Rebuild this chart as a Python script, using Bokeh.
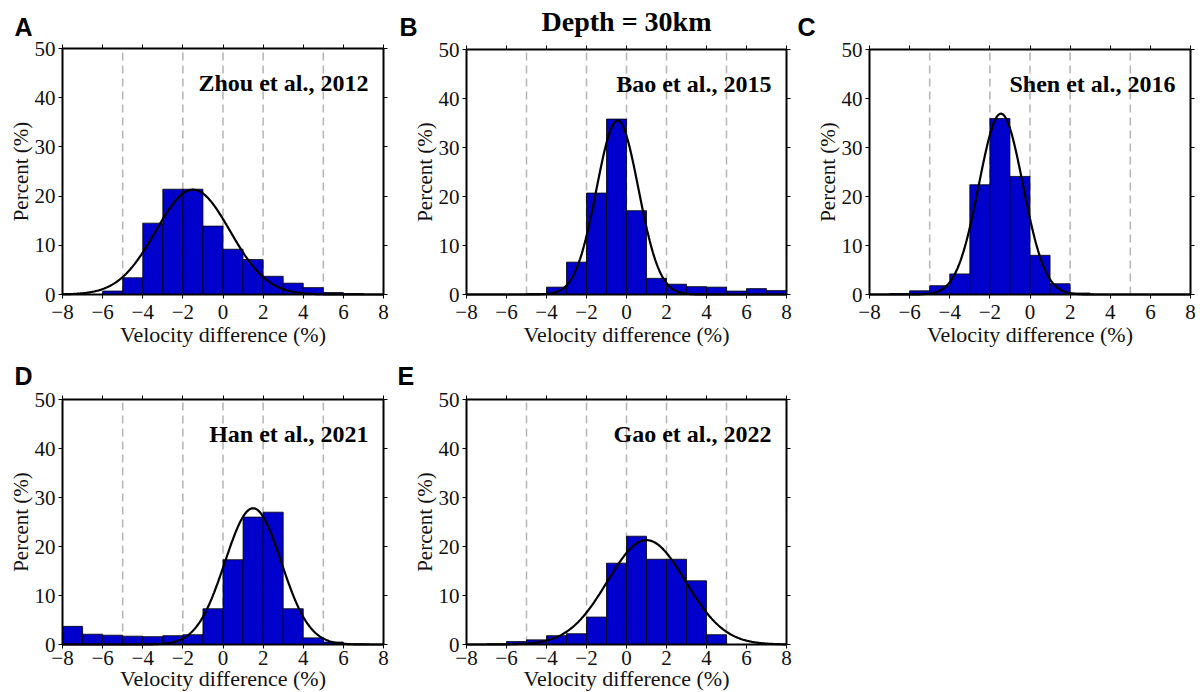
import math
import numpy as np
from bokeh.plotting import figure
from bokeh.models import Range1d, FixedTicker, LinearAxis, Label
from bokeh.layouts import column, row
from bokeh.embed import file_html
from bokeh.resources import INLINE

# ---------------- data ----------------
bin_edges = list(range(-8, 9))          # 1 % wide bins from -8 to 8
x_ticks = [-8, -6, -4, -2, 0, 2, 4, 6, 8]
y_ticks = [0, 10, 20, 30, 40, 50]
ref_lines = [-5, -2, 0, 2, 5]

zhou_2012 = [0, 0, 0.7, 3.4, 14.5, 21.4, 21.4, 13.9, 9.2, 7.1, 3.7, 2.3, 1.4, 0.4, 0.2, 0]
bao_2015 = [0, 0, 0, 0.15, 1.5, 6.6, 20.7, 35.8, 17.1, 3.3, 2.1, 1.6, 1.5, 0.7, 1.2, 0.8]
shen_2016 = [0, 0.2, 0.75, 1.8, 4.2, 22.4, 35.9, 24.1, 8.0, 2.2, 0.3, 0, 0, 0, 0, 0]
han_2021 = [3.7, 2.1, 1.9, 1.7, 1.6, 1.8, 2.0, 7.3, 17.3, 26.0, 27.0, 7.3, 1.35, 0.5, 0.1, 0]
gao_2022 = [0, 0.1, 0.6, 0.95, 1.8, 2.2, 5.6, 16.6, 22.1, 17.4, 17.4, 13.0, 2.0, 0, 0, 0]

# fitted normal curves: mean, std, peak
fit_mean = [-1.5, -0.45, -1.45, 1.5, 1.0]
fit_sigma = [1.85, 1.05, 1.1, 1.4, 1.95]
fit_peak = [21.3, 35.5, 36.9, 27.8, 21.3]

panel_letters = ["A", "B", "C", "D", "E"]
ref_names = ["Zhou et al., 2012", "Bao et al., 2015", "Shen et al., 2016",
             "Han et al., 2021", "Gao et al., 2022"]
series = [zhou_2012, bao_2015, shen_2016, han_2021, gao_2022]
title_text = "Depth = 30km"
x_title = "Velocity difference (%)"
y_title = "Percent (%)"

# ---------------- layout geometry (page pixels) ----------------
# axes box: left, right, top, bottom
boxes = [(62, 383, 48, 294), (466, 786, 49, 294), (869, 1190, 49, 294),
         (62, 383, 399, 644), (466, 786, 399, 644)]
# canvas of each figure: x0, y0, width, height
canvases = [(0, 0, 394, 350), (394, 0, 401, 350), (795, 0, 405, 350),
            (0, 350, 394, 342), (394, 350, 401, 342)]
# panel letter: left x, vertical centre y
letter_pos = [(14, 26), (399, 26), (797, 26), (14, 375), (397, 375)]
# per row: tick-label standoff, x-title centre offset below box
row_style = {0: (6, 40), 1: (2, 33.5)}

SERIF = "Liberation Serif"
SANS = "Liberation Sans"
BAR_COLOR = "#0000cc"
TXT = "#111111"


def make_panel(i):
    bl, br, bt, bb = boxes[i]
    cx, cy, cw, ch = canvases[i]
    sx = (br - bl) / 16.0
    sy = (bb - bt) / 50.0

    def px2x(px):
        return -8 + (px - bl) / sx

    def py2y(py):
        return 50 - (py - bt) / sy

    xr = Range1d(px2x(cx), px2x(cx + cw))
    yr = Range1d(py2y(cy + ch), py2y(cy))
    p = figure(width=cw, height=ch, x_range=xr, y_range=yr,
               output_backend="svg", toolbar_location=None, min_border=0)
    p.grid.visible = False
    p.outline_line_color = None
    p.background_fill_color = "white"
    p.border_fill_color = "white"

    # dashed reference lines (under the bars)
    p.segment(x0=ref_lines, x1=ref_lines, y0=[0] * len(ref_lines), y1=[50] * len(ref_lines),
              line_color="#b8b8b8", line_width=1.6, line_dash="8 5")

    vals = series[i]
    keep = [k for k in range(16) if vals[k] > 0]
    p.quad(left=[bin_edges[k] for k in keep], right=[bin_edges[k + 1] for k in keep],
           bottom=[0] * len(keep), top=[vals[k] for k in keep],
           fill_color=BAR_COLOR, line_color="black", line_width=0.8)

    xc = np.linspace(-8, 8, 401)
    yc = fit_peak[i] * np.exp(-(xc - fit_mean[i]) ** 2 / (2 * fit_sigma[i] ** 2))
    p.line(xc, yc, line_color="black", line_width=2.2)

    rs = row_style[0 if i < 3 else 1]
    overrides_x = {t: (("\u2212" + str(abs(t))) if t < 0 else str(t)) for t in x_ticks}

    xa = p.xaxis[0]
    ya = p.yaxis[0]
    xa.fixed_location = 0
    xa.bounds = (-8, 8)
    ya.fixed_location = -8
    ya.bounds = (0, 50)
    xa.ticker = FixedTicker(ticks=x_ticks)
    xa.major_label_overrides = overrides_x
    ya.ticker = FixedTicker(ticks=y_ticks)
    xa.major_label_standoff = rs[0]
    ya.major_label_standoff = 3

    top_ax = LinearAxis(fixed_location=50, bounds=(-8, 8), ticker=FixedTicker(ticks=x_ticks),
                        major_label_text_color=None)
    right_ax = LinearAxis(fixed_location=8, bounds=(0, 50), ticker=FixedTicker(ticks=y_ticks),
                          major_label_text_color=None)
    p.add_layout(top_ax, "above")
    p.add_layout(right_ax, "right")

    for ax in (xa, ya, top_ax, right_ax):
        ax.axis_line_width = 2
        ax.axis_line_color = "black"
        ax.major_tick_out = 4
        ax.major_tick_in = 0
        ax.major_tick_line_color = "black"
        ax.major_tick_line_width = 1
        ax.minor_tick_line_color = None
        ax.major_label_text_font = SERIF
        ax.major_label_text_font_size = "21px"
    xa.major_label_text_color = TXT
    ya.major_label_text_color = TXT

    # axis titles
    p.add_layout(Label(x=0, y=py2y(bb + rs[1]), text=x_title, text_align="center",
                       text_baseline="middle", text_font=SERIF, text_font_size="22px",
                       text_color=TXT))
    p.add_layout(Label(x=px2x(bl - 42), y=25, text=y_title, angle=math.pi / 2,
                       text_align="center", text_baseline="middle", text_font=SERIF,
                       text_font_size="21px", text_color=TXT))
    # reference name
    p.add_layout(Label(x=px2x(br - 15), y=py2y(bt + 34.5), text=ref_names[i],
                       text_align="right", text_baseline="middle", text_font=SERIF,
                       text_font_style="bold", text_font_size="24px", text_color="black"))
    # panel letter
    lx, ly = letter_pos[i]
    p.add_layout(Label(x=px2x(lx), y=py2y(ly), text=panel_letters[i],
                       text_align="left", text_baseline="middle", text_font=SANS,
                       text_font_style="bold", text_font_size="25px", text_color="black"))
    if i == 1:
        p.add_layout(Label(x=px2x(626), y=py2y(21), text=title_text,
                           text_align="center", text_baseline="middle", text_font=SERIF,
                           text_font_style="bold", text_font_size="28px", text_color="black"))
    return p


panels = [make_panel(i) for i in range(5)]
layout = column(row(panels[0], panels[1], panels[2]), row(panels[3], panels[4]))

html = file_html(layout, INLINE, title="Depth = 30km")
html = html.replace("<head>", "<head><style>html,body{margin:0;padding:0;overflow:hidden;}</style>", 1)
open("out.html", "w").write(html)
